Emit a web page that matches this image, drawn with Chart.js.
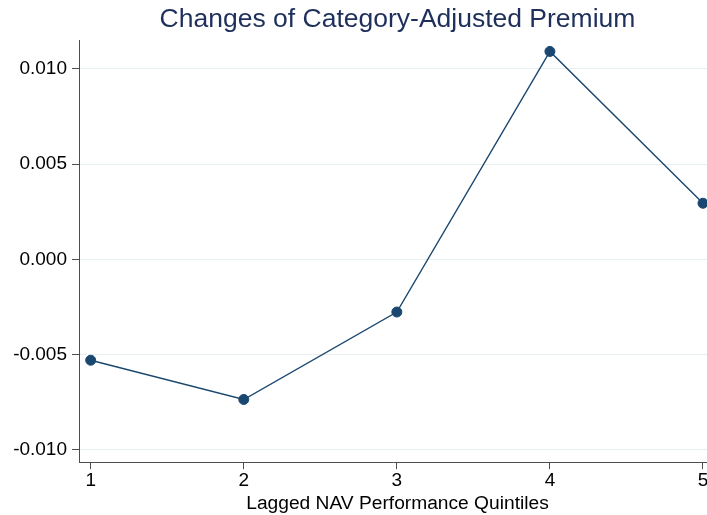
<!DOCTYPE html>
<html>
<head>
<meta charset="utf-8">
<script src="https://cdn.jsdelivr.net/npm/chart.js@4/dist/chart.umd.min.js"></script>
<style>
  html, body { margin: 0; padding: 0; background: #fff; overflow: hidden; }
</style>
</head>
<body>
<canvas id="premiumChart" width="707" height="515"></canvas>
<script>
// values
const quintiles = [1, 2, 3, 4, 5];
const premiumChanges = [-0.00529, -0.00735, -0.00276, 0.01092, 0.00295];
const yTickValues = [-0.010, -0.005, 0.000, 0.005, 0.010];

const navy = '#1a476f';
const axisGray = '#4d4d4d';
const fontFamily = 'Liberation Sans, Arial, sans-serif';

// the original plot region runs a few px past the right edge of the image
const plotRight = 716;
const extendRight = {
  id: 'extendRight',
  afterLayout(chart) {
    const extra = plotRight - chart.chartArea.right;
    const x = chart.scales.x;
    x.right += extra;
    x.width += extra;
    x.configure();
    chart.chartArea.right += extra;
    chart.chartArea.width += extra;
    if (chart.titleBlock) {
      chart.titleBlock.right = plotRight;
      chart.titleBlock.width = plotRight - chart.titleBlock.left;
    }
  }
};

const ctx = document.getElementById('premiumChart');

new Chart(ctx, {
  type: 'line',
  data: {
    datasets: [{
      data: quintiles.map((q, i) => ({ x: q, y: premiumChanges[i] })),
      borderColor: navy,
      backgroundColor: navy,
      borderWidth: 1.4,
      pointRadius: 5,
      pointBorderWidth: 1,
      pointBorderColor: navy,
      tension: 0,
      clip: false
    }]
  },
  plugins: [extendRight],
  options: {
    responsive: false,
    animation: false,
    layout: { padding: 0 },
    plugins: {
      legend: { display: false },
      tooltip: { enabled: false },
      title: {
        display: true,
        text: 'Changes of Category-Adjusted Premium',
        color: '#1e2f5c',
        fullSize: false,
        font: { family: fontFamily, size: 26.5, weight: 'normal' },
        padding: { top: 4, bottom: 5 }
      }
    },
    scales: {
      x: {
        type: 'linear',
        min: 0.9236,
        max: 5.085,
        afterBuildTicks: (scale) => { scale.ticks = quintiles.map(v => ({ value: v })); },
        grid: { display: true, drawOnChartArea: false, color: axisGray, tickColor: axisGray, tickLength: 7 },
        border: { display: true, color: axisGray, width: 1 },
        ticks: {
          color: '#000',
          padding: 0,
          maxRotation: 0,
          font: { family: fontFamily, size: 19 },
          callback: (v) => String(v)
        },
        title: {
          display: true,
          text: 'Lagged NAV Performance Quintiles',
          color: '#000',
          padding: { top: 0, bottom: 0 },
          font: { family: fontFamily, size: 19.2 }
        }
      },
      y: {
        min: -0.01064,
        max: 0.011478,
        afterBuildTicks: (scale) => { scale.ticks = yTickValues.map(v => ({ value: v })); },
        afterFit: (scale) => { scale.width = 79; },
        grid: { color: '#e8eff2', tickColor: axisGray, tickLength: 7, lineWidth: 1 },
        border: { display: true, color: axisGray, width: 1 },
        ticks: {
          color: '#000',
          padding: 5,
          font: { family: fontFamily, size: 19 },
          callback: (v) => Number(v).toFixed(3)
        }
      }
    }
  }
});
</script>
</body>
</html>
